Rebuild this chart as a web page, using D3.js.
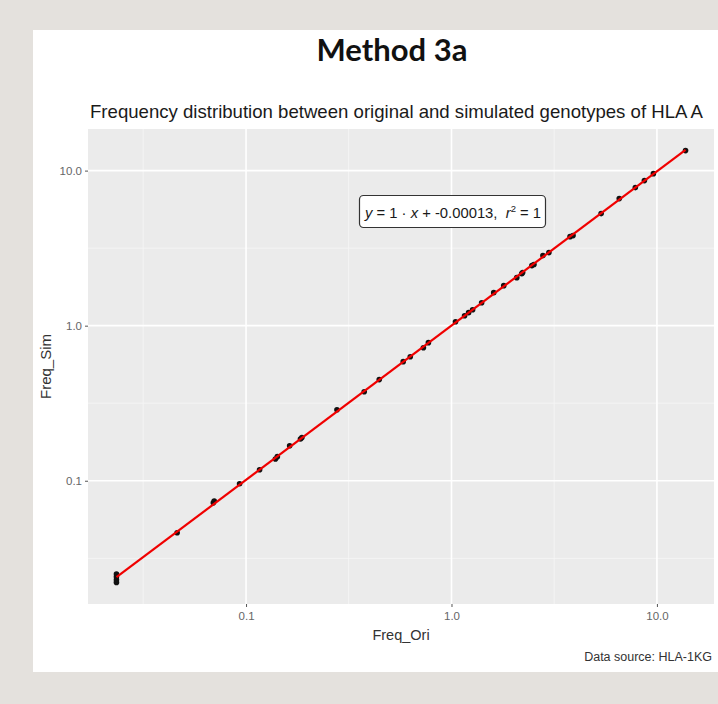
<!DOCTYPE html>
<html>
<head>
<meta charset="utf-8">
<script src="https://cdn.jsdelivr.net/npm/d3@7"></script>
<style>
  body { margin: 0; background: #e4e1dd; }
  svg { display: block; }
</style>
</head>
<body>
<div id="chart"></div>
<script>
// values (frequencies in %)
let freqOri = [0.0234, 0.0234, 0.0234, 0.0234, 0.0462, 0.0693, 0.0700, 0.0930, 0.1164, 0.139, 0.142,
    0.163, 0.184, 0.187, 0.277, 0.376, 0.445, 0.582, 0.630, 0.730, 0.772, 1.046, 1.158, 1.211, 1.267,
    1.402, 1.605, 1.796, 2.079, 2.198, 2.22, 2.462, 2.52, 2.786, 2.98, 3.776, 3.905, 5.35, 6.555,
    7.85, 8.69, 9.61, 13.78];
let freqSim = [0.0221, 0.0230, 0.0240, 0.0250, 0.0462, 0.0720, 0.0740, 0.0957, 0.1177, 0.138, 0.143,
    0.168, 0.186, 0.190, 0.287, 0.375, 0.449, 0.586, 0.631, 0.721, 0.777, 1.061, 1.160, 1.213, 1.268,
    1.407, 1.633, 1.812, 2.04, 2.165, 2.20, 2.44, 2.48, 2.83, 2.96, 3.75, 3.81, 5.28, 6.6,
    7.77, 8.62, 9.56, 13.46];
let xTicks = [0.1, 1, 10];
let yTicks = [0.1, 1, 10];
let minorTicks = [0.0316, 0.316, 3.16];
let eqText = ['y', ' = 1 · ', 'x', ' + -0.00013,  ', 'r', '2', ' = 1'];

let svgWidth = 718;
let svgHeight = 704;
let panel = {left: 88, right: 714, top: 129, bottom: 604};

let svg = d3.select('#chart').append('svg')
    .attr('width', svgWidth)
    .attr('height', svgHeight);

// slide backdrop
svg.append('rect').attr('width', svgWidth).attr('height', svgHeight).attr('fill', '#e4e1dd');
svg.append('rect').attr('x', 33).attr('y', 30).attr('width', svgWidth - 33).attr('height', 642).attr('fill', '#ffffff');

svg.append('text')
    .attr('x', 392).attr('y', 61)
    .attr('text-anchor', 'middle')
    .style('font-family', 'Lato, "Open Sans", sans-serif')
    .style('font-weight', 'bold')
    .style('font-size', '31px')
    .attr('fill', '#111')
    .text('Method 3a');

svg.append('text')
    .attr('x', 90).attr('y', 118)
    .style('font-family', '"Liberation Sans", Arial, sans-serif')
    .style('font-size', '18.6px')
    .attr('fill', '#1a1a1a')
    .text('Frequency distribution between original and simulated genotypes of HLA A');

// ggplot style: 5% expansion on the log scale
function expand(vals) {
    let lo = Math.log10(d3.min(vals)), hi = Math.log10(d3.max(vals));
    let pad = (hi - lo) * 0.05;
    return [Math.pow(10, lo - pad), Math.pow(10, hi + pad)];
}

let x = d3.scaleLog().domain(expand(freqOri)).range([panel.left, panel.right]);
let y = d3.scaleLog().domain(expand(freqSim)).range([panel.bottom, panel.top]);

svg.append('rect')
    .attr('x', panel.left).attr('y', panel.top)
    .attr('width', panel.right - panel.left).attr('height', panel.bottom - panel.top)
    .attr('fill', '#ebebeb');

let grid = svg.append('g');
grid.selectAll('.xminor').data(minorTicks).enter().append('line')
    .attr('x1', d => x(d)).attr('x2', d => x(d))
    .attr('y1', panel.top).attr('y2', panel.bottom)
    .attr('stroke', '#f6f6f6').attr('stroke-width', 0.8);
grid.selectAll('.yminor').data(minorTicks).enter().append('line')
    .attr('y1', d => y(d)).attr('y2', d => y(d))
    .attr('x1', panel.left).attr('x2', panel.right)
    .attr('stroke', '#f6f6f6').attr('stroke-width', 0.8);
grid.selectAll('.xmajor').data(xTicks).enter().append('line')
    .attr('x1', d => x(d)).attr('x2', d => x(d))
    .attr('y1', panel.top).attr('y2', panel.bottom)
    .attr('stroke', '#ffffff').attr('stroke-width', 1.6);
grid.selectAll('.ymajor').data(yTicks).enter().append('line')
    .attr('y1', d => y(d)).attr('y2', d => y(d))
    .attr('x1', panel.left).attr('x2', panel.right)
    .attr('stroke', '#ffffff').attr('stroke-width', 1.6);

let fmt = d => d3.format('.1f')(d);

let xAxis = svg.append('g')
    .attr('transform', 'translate(0,' + panel.bottom + ')')
    .call(d3.axisBottom(x).tickValues(xTicks).tickFormat(fmt).tickSize(3).tickPadding(5));
let yAxis = svg.append('g')
    .attr('transform', 'translate(' + panel.left + ',0)')
    .call(d3.axisLeft(y).tickValues(yTicks).tickFormat(fmt).tickSize(3).tickPadding(3));
[xAxis, yAxis].forEach(a => {
    a.select('.domain').remove();
    a.selectAll('line').attr('stroke', '#555');
    a.selectAll('text')
        .attr('fill', '#666')
        .style('font-family', '"Liberation Sans", Arial, sans-serif')
        .style('font-size', '11.5px');
});

svg.append('text')
    .attr('x', (panel.left + panel.right) / 2).attr('y', 640)
    .attr('text-anchor', 'middle')
    .style('font-family', '"Liberation Sans", Arial, sans-serif')
    .style('font-size', '14.5px')
    .attr('fill', '#333')
    .text('Freq_Ori');

svg.append('text')
    .attr('transform', 'translate(51,' + ((panel.top + panel.bottom) / 2) + ') rotate(-90)')
    .attr('text-anchor', 'middle')
    .style('font-family', '"Liberation Sans", Arial, sans-serif')
    .style('font-size', '15px')
    .attr('fill', '#333')
    .text('Freq_Sim');

// points
let pts = freqOri.map((d, i) => [d, freqSim[i]]);
svg.append('g').selectAll('circle')
    .data(pts).enter().append('circle')
    .attr('cx', d => x(d[0]))
    .attr('cy', d => y(d[1]))
    .attr('r', 2.8)
    .attr('fill', '#111');

// lm fit on the log scale, as geom_smooth does with log10 axes
let lx = freqOri.map(Math.log10), ly = freqSim.map(Math.log10);
let mx = d3.mean(lx), my = d3.mean(ly);
let slope = d3.sum(lx.map((v, i) => (v - mx) * (ly[i] - my))) / d3.sum(lx.map(v => (v - mx) * (v - mx)));
let icpt = my - slope * mx;
let ends = d3.extent(freqOri).map(v => [v, Math.pow(10, icpt + slope * Math.log10(v))]);

svg.append('path')
    .datum(ends)
    .attr('d', d3.line().x(d => x(d[0])).y(d => y(d[1])))
    .attr('stroke', '#f00000')
    .attr('stroke-width', 2.2)
    .attr('fill', 'none');

// equation label
let lab = svg.append('g');
lab.append('rect')
    .attr('x', 359.5).attr('y', 195.5)
    .attr('width', 186).attr('height', 32)
    .attr('rx', 4)
    .attr('fill', '#ffffff')
    .attr('stroke', '#333')
    .attr('stroke-width', 1.2);
let eq = lab.append('text')
    .attr('x', 365).attr('y', 218)
    .style('font-family', '"Liberation Sans", Arial, sans-serif')
    .style('font-size', '14.8px')
    .attr('fill', '#1a1a1a')
    .attr('xml:space', 'preserve');
eqText.forEach((t, i) => {
    let ts = eq.append('tspan').text(t);
    if (t == 'y' || t == 'x' || t == 'r') ts.style('font-style', 'italic');
    if (i == 5) ts.attr('dy', -6).style('font-size', '9.5px');
    if (i == 6) ts.attr('dy', 6);
});

svg.append('text')
    .attr('x', 712).attr('y', 661)
    .attr('text-anchor', 'end')
    .style('font-family', '"Liberation Sans", Arial, sans-serif')
    .style('font-size', '12.5px')
    .attr('fill', '#333')
    .text('Data source: HLA-1KG');
</script>
</body>
</html>
